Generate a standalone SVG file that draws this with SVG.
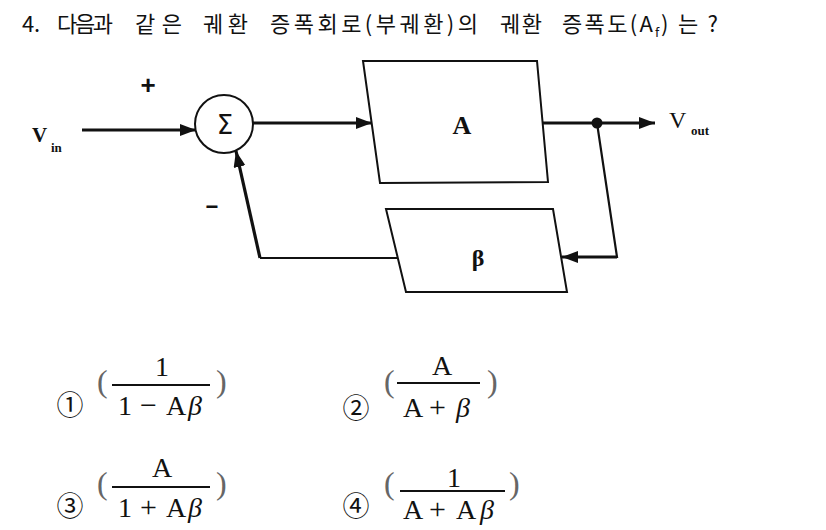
<svg xmlns="http://www.w3.org/2000/svg" width="826" height="530" viewBox="0 0 826 530">
<style>
.title{font-family:"Noto Sans CJK KR","Noto Sans",sans-serif;font-size:22px;fill:#111}
.box{fill:#fff;stroke:#111;stroke-width:2}
.thick{fill:none;stroke:#111;stroke-width:3.2}
.thin{fill:none;stroke:#111;stroke-width:1.8}
.lbl{font-family:"Liberation Serif","Times New Roman",serif;fill:#111}
.sg{font-family:"Liberation Sans",Arial,sans-serif;font-weight:bold;fill:#111}
.frac{font-family:"Liberation Serif","Times New Roman",serif;font-size:28px;fill:#111}
.it{font-style:italic}
.op{font-size:30px}
.par{font-family:"Liberation Serif","Times New Roman",serif;font-size:32px;fill:#666}
.bar{stroke:#111;stroke-width:1.8}
.num{font-family:"Noto Sans CJK KR","Noto Sans",sans-serif;font-size:27px;fill:#111;text-anchor:middle}
</style>
<defs>
<marker id="ah" markerUnits="userSpaceOnUse" markerWidth="18" markerHeight="14" refX="16" refY="6" orient="auto">
<path d="M0,0 L16,6 L0,12 Z" fill="#111"/>
</marker>
</defs>

<g id="title">
<text class="title" x="22" y="32" textLength="18">4.</text>
<text class="title" x="57" y="32" textLength="56">다음과</text>
<text class="title" x="135" y="32" textLength="47">같은</text>
<text class="title" x="203" y="32" textLength="45">궤환</text>
<text class="title" x="270" y="32" textLength="208">증폭회로(부궤환)의</text>
<text class="title" x="500" y="32" textLength="42">궤환</text>
<text class="title" x="562" y="32" textLength="91">증폭도(A</text>
<text class="title" x="655" y="37" style="font-size:13px">f</text>
<text class="title" x="661" y="32" textLength="57">)는?</text>
</g>

<g id="connectors">
<line class="thick" x1="82" y1="130" x2="196" y2="130" marker-end="url(#ah)"/>
<line class="thick" x1="253" y1="123" x2="372" y2="123" marker-end="url(#ah)"/>
<line class="thick" x1="543" y1="123" x2="655" y2="123" marker-end="url(#ah)"/>
<circle cx="597" cy="123" r="5.5" fill="#111"/>
<polyline class="thin" points="597,123 617,257 590,257" style="stroke-width:2.2"/>
<line class="thick" x1="617" y1="257" x2="562" y2="257" marker-end="url(#ah)"/>
<line class="thin" x1="398" y1="258" x2="260" y2="258"/>
<line class="thick" x1="260" y1="258" x2="236" y2="151" marker-end="url(#ah)"/>
</g>

<g id="vin">
<text class="lbl" x="32" y="142" style="font-size:21px;font-weight:bold">V</text>
<text class="lbl" x="51" y="152" style="font-size:13px;font-weight:bold">in</text>
</g>
<g id="plus"><text class="sg" x="148" y="94" text-anchor="middle" style="font-size:26px">+</text></g>
<g id="minus"><text class="sg" x="212" y="214" text-anchor="middle" style="font-size:22px">−</text></g>

<g id="sum">
<circle cx="224" cy="124" r="29" fill="#fff" stroke="#111" stroke-width="2"/>
<text x="225" y="134" text-anchor="middle" style="font-family:'DejaVu Sans',sans-serif;font-size:26px;fill:#111">Σ</text>
</g>

<g id="blockA">
<path class="box" d="M363,61 L537,61 L548,182 L380,183 Z"/>
<text class="lbl" x="462" y="134" text-anchor="middle" style="font-size:26px;font-weight:bold">A</text>
</g>

<g id="blockB">
<path class="box" d="M386,209 L553,209 L567,292 L406,292 Z"/>
<text class="lbl" x="478" y="266" text-anchor="middle" style="font-size:24px;font-weight:bold">β</text>
</g>

<g id="vout">
<text class="lbl" x="669" y="128" style="font-size:24px">V</text>
<text class="lbl" x="691" y="135" style="font-size:13px;font-weight:bold">out</text>
</g>

<g id="opt1">
<text class="num" x="70" y="415">①</text>
<text class="par" x="97" y="392">(</text>
<text class="frac" x="162" y="376" text-anchor="middle">1</text>
<line class="bar" x1="112" y1="385" x2="210" y2="385"/>
<text class="frac" y="415"><tspan x="118">1</tspan><tspan class="op" x="140">−</tspan><tspan x="166">A</tspan><tspan class="it" x="188">β</tspan></text>
<text class="par" x="216" y="392">)</text>
</g>

<g id="opt2">
<text class="num" x="356" y="418">②</text>
<text class="par" x="384" y="392">(</text>
<text class="frac" x="442" y="375" text-anchor="middle">A</text>
<line class="bar" x1="397" y1="383" x2="480" y2="383"/>
<text class="frac" y="417"><tspan x="403">A</tspan><tspan class="op" x="429">+</tspan><tspan class="it" x="456">β</tspan></text>
<text class="par" x="487" y="392">)</text>
</g>

<g id="opt3">
<text class="num" x="70" y="516">③</text>
<text class="par" x="97" y="494">(</text>
<text class="frac" x="162" y="477" text-anchor="middle">A</text>
<line class="bar" x1="112" y1="487" x2="210" y2="487"/>
<text class="frac" y="517"><tspan x="118">1</tspan><tspan class="op" x="140">+</tspan><tspan x="166">A</tspan><tspan class="it" x="188">β</tspan></text>
<text class="par" x="216" y="494">)</text>
</g>

<g id="opt4">
<text class="num" x="356" y="516">④</text>
<text class="par" x="384" y="494">(</text>
<text class="frac" x="454" y="487" text-anchor="middle">1</text>
<line class="bar" x1="400" y1="491" x2="505" y2="491"/>
<text class="frac" y="519"><tspan x="403">A</tspan><tspan class="op" x="429">+</tspan><tspan x="456">A</tspan><tspan class="it" x="480">β</tspan></text>
<text class="par" x="509" y="494">)</text>
</g>
</svg>
